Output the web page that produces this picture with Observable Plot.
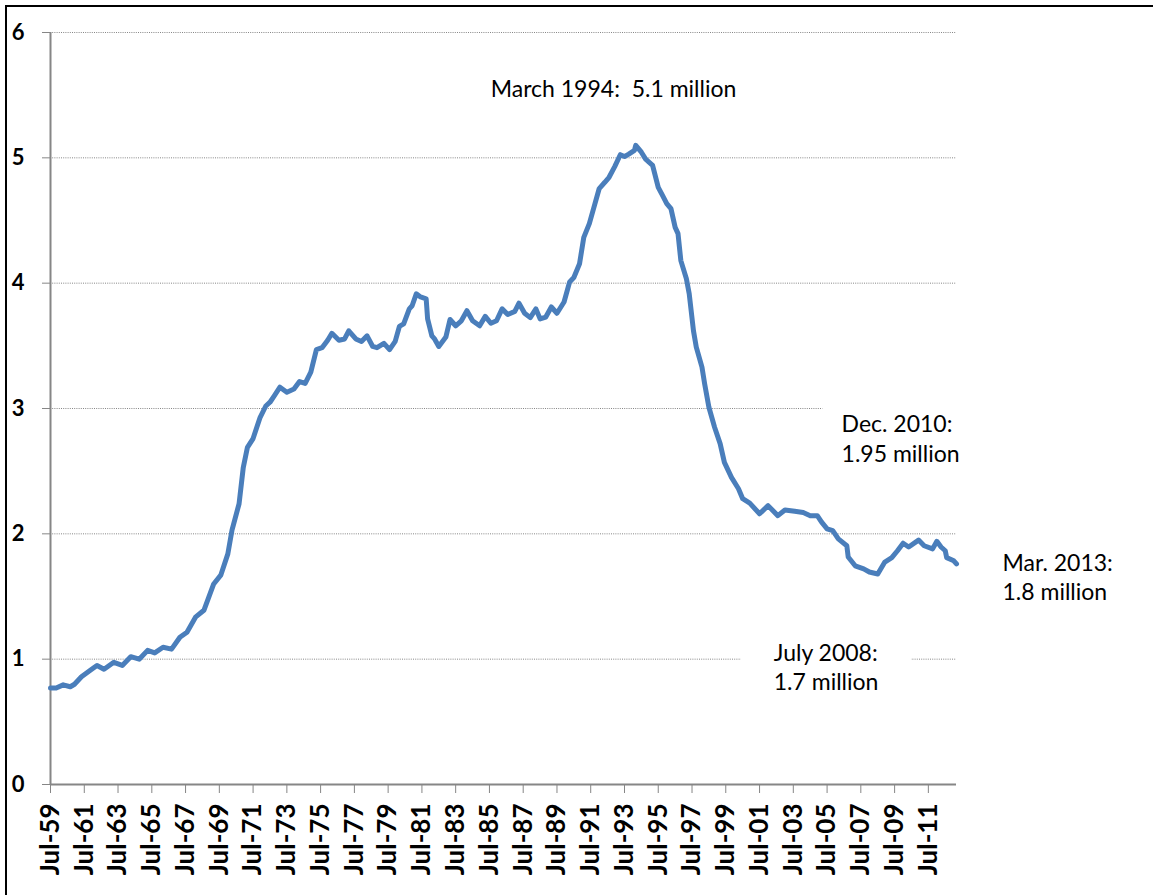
<!DOCTYPE html>
<html>
<head>
<meta charset="utf-8">
<script src="https://cdn.jsdelivr.net/npm/d3@7"></script>
<script src="https://cdn.jsdelivr.net/npm/@observablehq/plot@0.6"></script>
<style>
  html, body { margin: 0; padding: 0; background: #fff; }
  #chart { position: absolute; left: 0; top: 0; }
  #frame { position: absolute; left: 5px; top: 5px; right: 0; bottom: 0;
           border-top: 2px solid #000; border-left: 2px solid #000; pointer-events: none; }
</style>
</head>
<body>
<div id="chart"></div>
<div id="frame"></div>
<script>
// Monthly caseload (millions of families), sampled at turning points
const months = [
  "1959-07","1959-11","1960-04","1960-09","1960-12","1961-05","1961-11","1962-04","1962-09","1963-04",
  "1963-10","1964-04","1964-10","1965-04","1965-09","1966-03","1966-09","1967-03","1967-08","1968-02",
  "1968-08","1969-03","1969-08","1970-01","1970-04","1970-09","1970-12","1971-03","1971-07","1971-12",
  "1972-04","1972-07","1972-10","1973-02","1973-07","1973-12","1974-04","1974-08","1974-12","1975-04",
  "1975-08","1975-12","1976-03","1976-08","1976-12","1977-03","1977-08","1977-12","1978-04","1978-08",
  "1978-11","1979-04","1979-08","1979-12","1980-03","1980-06","1980-10","1980-12","1981-03","1981-06",
  "1981-10","1981-11","1982-02","1982-04","1982-07","1982-12","1983-03","1983-07","1983-11","1984-03",
  "1984-07","1984-12","1985-04","1985-08","1985-12","1986-04","1986-08","1987-01","1987-04","1987-08",
  "1987-12","1988-04","1988-07","1988-11","1989-03","1989-07","1989-12","1990-04","1990-07","1990-11",
  "1991-02","1991-06","1991-10","1992-01","1992-05","1992-08","1992-12","1993-04","1993-07","1993-10",
  "1994-02","1994-03","1994-07","1994-10","1995-03","1995-07","1995-10","1996-01","1996-04","1996-07",
  "1996-09","1996-11","1997-03","1997-05","1997-08","1997-10","1998-02","1998-04","1998-07","1998-11",
  "1999-03","1999-06","1999-11","2000-04","2000-07","2000-12","2001-07","2002-01","2002-08","2003-01",
  "2003-08","2004-02","2004-07","2004-12","2005-03","2005-07","2005-11","2006-03","2006-09","2006-10",
  "2007-03","2007-09","2008-01","2008-07","2008-12","2009-05","2009-09","2010-01","2010-05","2010-12",
  "2011-04","2011-10","2012-01","2012-04","2012-07","2012-08","2013-01","2013-03"
];
const caseloads = [
  0.77, 0.77, 0.795, 0.78, 0.80, 0.86, 0.91, 0.95, 0.92, 0.975,
  0.95, 1.02, 1.00, 1.07, 1.05, 1.095, 1.08, 1.175, 1.215, 1.335,
  1.39, 1.60, 1.67, 1.84, 2.03, 2.24, 2.53, 2.69, 2.76, 2.93,
  3.02, 3.05, 3.10, 3.17, 3.13, 3.155, 3.215, 3.20, 3.29, 3.47,
  3.485, 3.545, 3.60, 3.545, 3.555, 3.62, 3.555, 3.535, 3.58, 3.495,
  3.485, 3.52, 3.47, 3.535, 3.655, 3.675, 3.795, 3.82, 3.915, 3.89,
  3.875, 3.715, 3.58, 3.555, 3.495, 3.57, 3.71, 3.66, 3.70, 3.78,
  3.70, 3.66, 3.735, 3.68, 3.70, 3.795, 3.75, 3.775, 3.84, 3.76,
  3.725, 3.795, 3.715, 3.73, 3.81, 3.76, 3.85, 4.01, 4.045, 4.155,
  4.365, 4.475, 4.635, 4.755, 4.805, 4.845, 4.93, 5.025, 5.01, 5.03,
  5.06, 5.10, 5.045, 4.99, 4.94, 4.765, 4.70, 4.635, 4.595, 4.445,
  4.395, 4.18, 4.035, 3.915, 3.62, 3.49, 3.33, 3.195, 3.01, 2.85,
  2.72, 2.57, 2.45, 2.36, 2.28, 2.245, 2.16, 2.225, 2.145, 2.19,
  2.18, 2.17, 2.145, 2.145, 2.095, 2.04, 2.025, 1.96, 1.905, 1.815,
  1.745, 1.72, 1.695, 1.68, 1.775, 1.81, 1.865, 1.925, 1.895, 1.95,
  1.905, 1.88, 1.94, 1.895, 1.865, 1.81, 1.785, 1.76
];
const xTickLabels = [
  "Jul-59","Jul-61","Jul-63","Jul-65","Jul-67","Jul-69","Jul-71","Jul-73","Jul-75","Jul-77",
  "Jul-79","Jul-81","Jul-83","Jul-85","Jul-87","Jul-89","Jul-91","Jul-93","Jul-95","Jul-97",
  "Jul-99","Jul-01","Jul-03","Jul-05","Jul-07","Jul-09","Jul-11"
];
const yTicks = [0, 1, 2, 3, 4, 5, 6];

const parseMonth = s => { const [y, m] = s.split("-").map(Number); return new Date(Date.UTC(y, m - 1, 1)); };
const series = months.map((m, i) => ({date: parseMonth(m), value: caseloads[i]}));
const at = m => series[months.indexOf(m)];

const tickDates = xTickLabels.map(l => {
  const yy = +l.slice(4);
  return new Date(Date.UTC(yy < 50 ? 2000 + yy : 1900 + yy, 6, 1));
});
const tickName = new Map(tickDates.map((d, i) => [+d, xTickLabels[i]]));

const grey = "#868686";
const font = "Lato, 'Open Sans', sans-serif";
const f1 = d3.format(".1f"), f2 = d3.format(".2f");

// Callouts anchored on the month they describe
const peak = at("1994-03"), low = at("2008-07"), dec10 = at("2010-12"), last = at("2013-03");
const note = (pt, text, dx, dy) => Plot.text([pt], {
  x: "date", y: "value", text: () => text, dx, dy,
  textAnchor: "start", lineAnchor: "middle", lineHeight: 1.3,
  fontSize: 23, fill: "#000"
});

const chart = Plot.plot({
  width: 1153,
  height: 895,
  marginLeft: 50,
  marginRight: 197,
  marginTop: 32,
  marginBottom: 111,
  style: {fontFamily: font, background: "#fff", color: "#000"},
  x: {type: "utc", domain: [series[0].date, series[series.length - 1].date]},
  y: {domain: [0, 6]},
  marks: [
    Plot.gridY(yTicks.filter(v => v > 0), {stroke: grey, strokeOpacity: 1, strokeDasharray: "1,1.2"}),
    // white backing behind two callouts
    Plot.rect([{a: parseMonth("2000-06"), b: parseMonth("2010-07"), lo: 0.85, hi: 1.15},
               {a: parseMonth("2005-04"), b: parseMonth("2013-06"), lo: 2.85, hi: 3.15}],
      {x1: "a", x2: "b", y1: "lo", y2: "hi", fill: "#fff"}),
    Plot.ruleX([series[0].date], {stroke: grey, strokeWidth: 2}),
    Plot.ruleY([0], {stroke: grey, strokeWidth: 2}),
    Plot.axisY(yTicks, {tickFormat: d => String(d), tickSize: 8, tickPadding: 18, stroke: grey, fill: "#000",
      fontSize: 22, fontWeight: "bold", label: null}),
    Plot.axisX(tickDates, {tickFormat: d => tickName.get(+d), tickRotate: -90,
      tickSize: 9, tickPadding: 10, stroke: grey, fill: "#000",
      fontSize: 26, fontWeight: "bold", label: null}),
    Plot.line(series, {x: "date", y: "value", stroke: "#4a7ebb", strokeWidth: 5,
      strokeLinejoin: "round", strokeLinecap: "round"}),
    note(peak, `March 1994:  ${f1(peak.value)} million`, -145, -58),
    note(dec10, `Dec. 2010:\n${f2(dec10.value)} million`, -77, -103),
    note(low, `July 2008:\n${f1(low.value)} million`, -104, 92),
    note(last, `Mar. 2013:\n${f1(last.value)} million`, 46, 12)
  ]
});
document.getElementById("chart").append(chart);
</script>
</body>
</html>
